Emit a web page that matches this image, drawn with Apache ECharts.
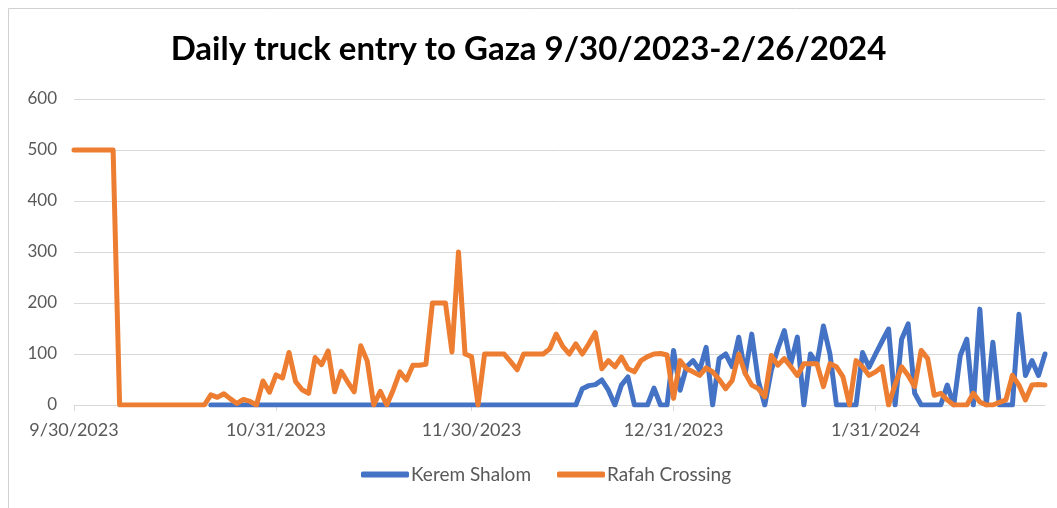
<!DOCTYPE html>
<html>
<head>
<meta charset="utf-8">
<script src="https://cdn.jsdelivr.net/npm/echarts@6/dist/echarts.min.js"></script>
<style>
  html, body { margin: 0; padding: 0; background: #fff; }
  #chart { width: 1057px; height: 508px; }
</style>
</head>
<body>
<div id="chart"></div>
<script>
// daily values, 9/30/2023 .. 2/26/2024 (150 days)
var startDate = '2023-09-30'
var labelDays = [0, 31, 61, 92, 123]

var keremShalom = [
  '-','-','-','-','-','-','-','-','-','-','-','-','-','-','-','-','-','-','-','-','-',
  0,0,0,0,0,0,0,0,0,0,0,0,0,0,0,0,0,0,0,0,0,0,0,0,0,0,0,0,0,0,0,0,0,0,0,0,0,
  0,0,0,0,0,0,0,0,0,0,0,0,0,0,0,0,0,0,0,0,
  32,38,40,49,29,0,39,55,0,0,0,33,0,0,
  107,29,75,87,68,113,0,91,100,75,133,62,139,
  48,0,68,110,146,81,133,0,100,81,155,100,0,
  0,0,0,103,74,100,125,149,0,129,159,23,
  0,0,0,0,39,0,97,129,0,188,0,123,0,0,0,178,58,87,58,100
]

var rafahCrossing = [
  500,500,500,500,500,500,500,
  0,0,0,0,0,0,0,0,0,0,0,0,0,0,
  20,15,22,12,3,11,7,0,47,25,59,53,103,46,30,23,93,79,106,26,66,45,26,116,86,0,
  27,0,30,65,49,78,78,80,200,200,200,104,300,100,95,0,100,100,100,100,85,69,100,100,100,100,110,
  139,115,100,120,100,120,142,71,87,75,94,71,65,87,95,100,101,98,13,87,71,65,58,73,
  65,50,32,48,100,62,39,32,16,97,78,91,75,58,81,81,81,36,81,75,55,0,87,75,58,
  65,75,0,40,75,58,36,107,91,19,23,10,0,0,0,23,6,0,0,5,10,58,39,10,39,40,39
]

var dates = []
var d0 = new Date(startDate + 'T00:00:00')
for (var i = 0; i < rafahCrossing.length; i++) {
  var d = new Date(d0.getTime())
  d.setDate(d0.getDate() + i)
  dates.push((d.getMonth() + 1) + '/' + d.getDate() + '/' + d.getFullYear())
}

var textColor = '#595959'
var gridColor = '#d9d9d9'

var myChart = echarts.init(document.getElementById('chart'))
myChart.setOption({
  animation: false,
  title: {
    text: 'Daily truck entry to Gaza 9/30/2023-2/26/2024',
    left: 'center',
    top: 28,
    textStyle: { fontFamily: 'Lato', fontWeight: 'bold', fontSize: 33, color: '#000' }
  },
  graphic: [{
    type: 'rect',
    shape: { x: 8.5, y: 8.5, width: 1080, height: 540 },
    style: { fill: 'none', stroke: '#d0d0d0', lineWidth: 1 },
    silent: true
  }],
  legend: {
    bottom: 19,
    left: 356,
    itemWidth: 48,
    itemHeight: 6,
    itemGap: 26,
    icon: 'roundRect',
    textStyle: { fontFamily: 'Lato', fontSize: 19, color: textColor, padding: [0, 0, 0, -3] },
    data: ['Kerem Shalom', 'Rafah Crossing']
  },
  grid: { left: 74, right: 12, top: 99, bottom: 103, containLabel: false },
  xAxis: {
    type: 'category',
    boundaryGap: false,
    data: dates,
    axisLine: { lineStyle: { color: gridColor, width: 1 } },
    axisTick: {
      show: true,
      length: 6,
      lineStyle: { color: gridColor },
      interval: function (idx) { return labelDays.indexOf(idx) >= 0 }
    },
    axisLabel: {
      interval: function (idx) { return labelDays.indexOf(idx) >= 0 },
      color: textColor,
      fontFamily: 'Lato',
      fontSize: 18,
      margin: 16
    }
  },
  yAxis: {
    type: 'value',
    min: 0,
    max: 600,
    interval: 100,
    axisLine: { show: false },
    axisTick: { show: false },
    splitLine: { lineStyle: { color: gridColor, width: 1 } },
    axisLabel: { color: textColor, fontFamily: 'Lato', fontSize: 17, margin: 17 }
  },
  series: [
    {
      name: 'Kerem Shalom',
      type: 'line',
      data: keremShalom,
      color: '#4472c4',
      showSymbol: false,
      symbol: 'none',
      lineStyle: { width: 5, color: '#4472c4', cap: 'round', join: 'round' }
    },
    {
      name: 'Rafah Crossing',
      type: 'line',
      data: rafahCrossing,
      color: '#ed7d31',
      showSymbol: false,
      symbol: 'none',
      lineStyle: { width: 5, color: '#ed7d31', cap: 'round', join: 'round' }
    }
  ]
})
</script>
</body>
</html>
